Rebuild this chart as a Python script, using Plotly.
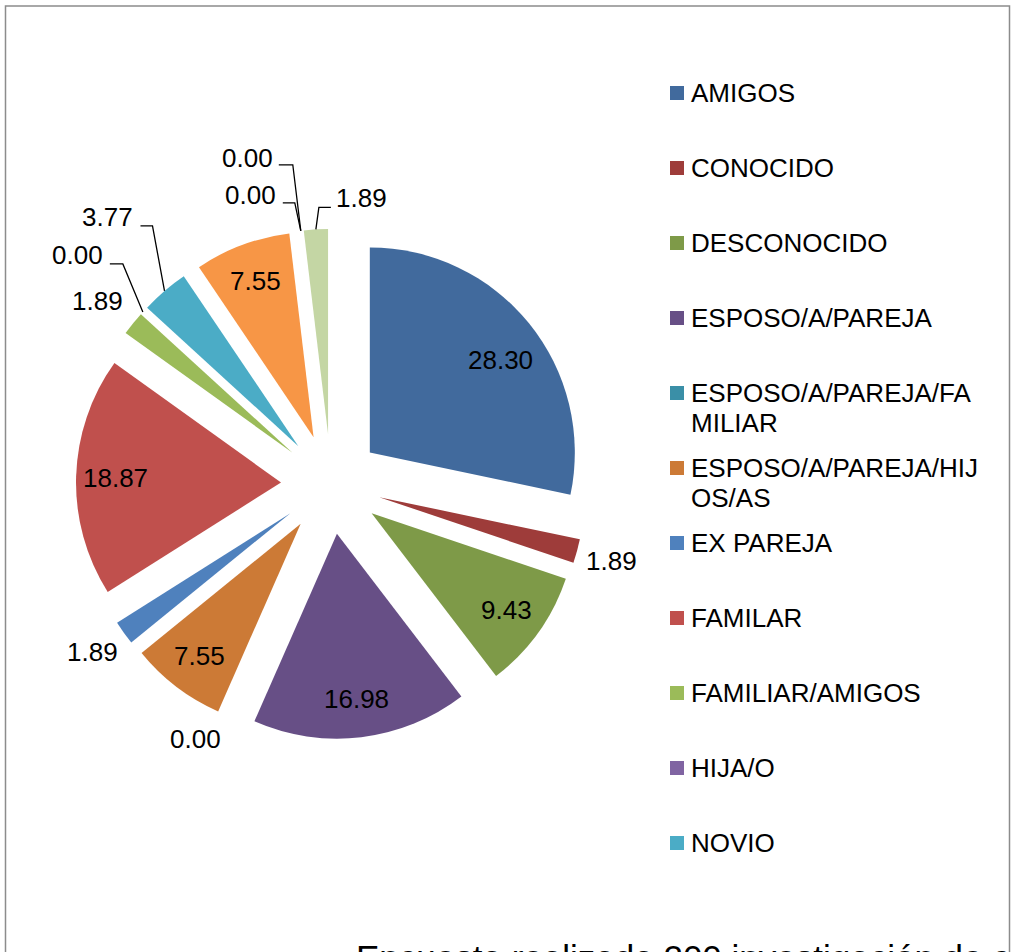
import math
import plotly.graph_objects as go

# ---------------- data ----------------
categories = [
    "AMIGOS", "CONOCIDO", "DESCONOCIDO", "ESPOSO/A/PAREJA",
    "ESPOSO/A/PAREJA/FAMILIAR", "ESPOSO/A/PAREJA/HIJOS/AS", "EX PAREJA",
    "FAMILAR", "FAMILIAR/AMIGOS", "HIJA/O", "NOVIO",
    "OTROS", "PADRE/MADRE", "PRIMO/A", "VECINO/A",
]
percentages = [28.30, 1.89, 9.43, 16.98, 0.00, 7.55, 1.89, 18.87, 1.89,
               0.00, 3.77, 7.55, 0.00, 0.00, 1.89]
# legend entries as they are wrapped in the visible (truncated) legend
legend_lines = [
    ["AMIGOS"], ["CONOCIDO"], ["DESCONOCIDO"], ["ESPOSO/A/PAREJA"],
    ["ESPOSO/A/PAREJA/FA", "MILIAR"], ["ESPOSO/A/PAREJA/HIJ", "OS/AS"],
    ["EX PAREJA"], ["FAMILAR"], ["FAMILIAR/AMIGOS"], ["HIJA/O"], ["NOVIO"],
]
caption = "Encuesta realizada 200 investigación de campo"

# ---------------- style ----------------
colors = ["#416A9D", "#9E3C3A", "#7E9A48", "#674F86", "#3A8FA7", "#CC7A36",
          "#4F81BD", "#C0504D", "#9BBB59", "#8064A2", "#4BACC6", "#F79646",
          "#95B3D7", "#D99694", "#C4D6A4"]
FONT = "Liberation Sans, Arial, sans-serif"
FS = 26
W, H = 1013, 952
CX, CY = 331, 484        # pie centre (px)
R = 205                  # pie radius (px)
PULL_PX = 50             # explosion distance (px)
INSIDE_FRAC = 0.81
inside_nudge = {0: (2, 12)}

# outside label placement (offsets in px relative to slice outer-mid point)
outside_style = {
    1: dict(text=(34.5, 10)),
    4: dict(text=(-32.5, 21.5)),
    6: dict(text=(-31, 19)),
    8: dict(text=(-35.5, -22)),
    9: dict(elbow=(-20, -48), end=(-33, -48), text=(-65.5, -57)),
    10: dict(elbow=(-12, -65), end=(-24, -65), text=(-57, -74)),
    12: dict(elbow=(-6, -28), end=(-18, -28), text=(-50, -35.5)),
    13: dict(elbow=(-8, -66), end=(-22, -66), text=(-53.5, -73)),
    14: dict(elbow=(3, -22), end=(15, -22), text=(46, -31.5)),
}


def px(x):
    return x / W


def py(y):
    return 1 - y / H


pull = PULL_PX / R
half = R + PULL_PX

fig = go.Figure()
fig.add_trace(go.Pie(
    labels=categories,
    values=percentages,
    sort=False,
    direction="clockwise",
    rotation=0,
    pull=[pull] * len(percentages),
    marker=dict(colors=colors, line=dict(width=0)),
    textinfo="none",
    hoverinfo="label+value",
    showlegend=False,
    domain=dict(x=[px(CX - half), px(CX + half)],
                y=[py(CY + half), py(CY - half)]),
))

annotations = []
shapes = []

total = sum(percentages)
cum = 0.0
for i, v in enumerate(percentages):
    a0 = cum / total * 360
    cum += v
    a1 = cum / total * 360
    mid = math.radians((a0 + a1) / 2)
    ux, uy = math.sin(mid), -math.cos(mid)
    pcx, pcy = CX + PULL_PX * ux, CY + PULL_PX * uy
    label = f"{v:.2f}"
    if i in outside_style:
        st = outside_style[i]
        ax, ay = pcx + R * ux, pcy + R * uy
        tx, ty = ax + st["text"][0], ay + st["text"][1]
        if "elbow" in st:
            ex, ey = ax + st["elbow"][0], ay + st["elbow"][1]
            lx, ly = ax + st["end"][0], ay + st["end"][1]
            shapes.append(dict(
                type="path", xref="paper", yref="paper",
                path=f"M {px(ax)} {py(ay)} L {px(ex)} {py(ey)} L {px(lx)} {py(ly)}",
                line=dict(color="black", width=1.3)))
    else:
        nx, ny = inside_nudge.get(i, (0, 0))
        tx = pcx + INSIDE_FRAC * R * ux + nx
        ty = pcy + INSIDE_FRAC * R * uy + ny
    annotations.append(dict(
        x=px(tx), y=py(ty), xref="paper", yref="paper", text=label,
        showarrow=False, xanchor="center", yanchor="middle",
        font=dict(family=FONT, size=FS, color="black")))

# manual (truncated) legend
LEG_X, LEG_Y0, LEG_DY, LINE_DY, MK = 670, 93, 75, 30, 14
for i, lines in enumerate(legend_lines):
    y0 = LEG_Y0 + LEG_DY * i
    shapes.append(dict(
        type="rect", xref="paper", yref="paper",
        x0=px(LEG_X), x1=px(LEG_X + MK), y0=py(y0 - MK / 2), y1=py(y0 + MK / 2),
        fillcolor=colors[i], line=dict(width=0)))
    for j, t in enumerate(lines):
        annotations.append(dict(
            x=px(LEG_X + MK + 5), y=py(y0 + LINE_DY * j), xref="paper", yref="paper",
            text=t, showarrow=False, xanchor="left", yanchor="middle",
            font=dict(family=FONT, size=FS, color="black")))

# caption partially cut off at the bottom
annotations.append(dict(
    x=px(354), y=py(957), xref="paper", yref="paper", text=caption,
    showarrow=False, xanchor="left", yanchor="middle",
    font=dict(family=FONT, size=35, color="black")))

# chart frame
shapes.append(dict(
    type="rect", xref="paper", yref="paper",
    x0=px(5.5), x1=px(1009.5), y0=py(1100), y1=py(6),
    line=dict(color="#8C8C8C", width=1.5), fillcolor="rgba(0,0,0,0)"))

fig.update_layout(
    width=W, height=H,
    margin=dict(l=0, r=0, t=0, b=0),
    paper_bgcolor="white",
    plot_bgcolor="white",
    annotations=annotations,
    shapes=shapes,
    font=dict(family=FONT, size=FS),
)

fig.write_html(
    "out.html",
    config={"displayModeBar": False},
    post_script="document.body.style.margin='0';document.body.style.overflow='hidden';",
)
